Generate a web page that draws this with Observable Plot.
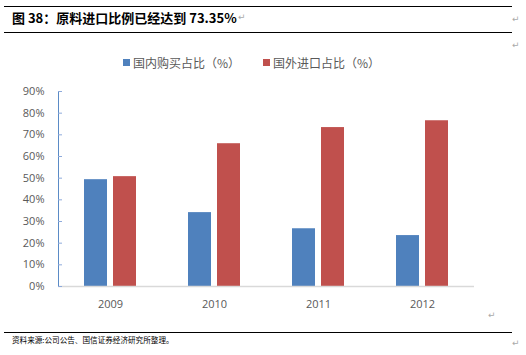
<!DOCTYPE html>
<html><head><meta charset="utf-8">
<script src="https://cdn.jsdelivr.net/npm/d3@7"></script>
<script src="https://cdn.jsdelivr.net/npm/@observablehq/plot@0.6"></script>
<style>
body{margin:0;background:#fff;width:526px;height:355px;position:relative;overflow:hidden;font-family:"Noto Sans CJK SC",sans-serif;}
.abs{position:absolute;white-space:nowrap;}
.hr{position:absolute;left:4px;width:508px;height:0;border-top:1px solid #000;}
.pm{position:absolute;color:#aaa;font-size:9px;font-family:"DejaVu Sans";}
#chart{position:absolute;left:0;top:75px;}
.legend{position:absolute;top:54px;font-size:12px;color:#595959;display:flex;align-items:center;}
.sw{display:inline-block;width:7px;height:7px;margin-right:3px;}
</style></head>
<body>
<div class="hr" style="top:6px"></div>
<div class="abs" style="left:12px;top:8px;font-size:13px;font-weight:bold;color:#000;">图 38：原料进口比例已经达到 73.35%</div>
<div class="pm" style="left:238px;top:12px">↵</div>
<div class="pm" style="left:512px;top:14px">↵</div>
<div class="hr" style="top:32px"></div>
<div class="pm" style="left:512px;top:40px">↵</div>
<div id="legend"></div>
<div id="chart"></div>
<div class="pm" style="left:488px;top:310px">↵</div>
<div class="hr" style="top:332px"></div>
<div class="abs" style="left:12px;top:334px;font-size:7.6px;color:#000;">资料来源:公司公告、国信证券经济研究所整理。</div>
<div class="pm" style="left:512px;top:338px">↵</div>
<script>
const years = ["2009", "2010", "2011", "2012"];
const seriesNames = ["国内购买占比（%）", "国外进口占比（%）"];
const domestic = [0.493, 0.341, 0.2665, 0.235];
const imported = [0.507, 0.659, 0.7335, 0.765];
const yTicks = [0, 0.1, 0.2, 0.3, 0.4, 0.5, 0.6, 0.7, 0.8, 0.9];
const colors = ["#4F81BD", "#C0504D"];

const data = [];
years.forEach((y, i) => {
  data.push({year: y, series: seriesNames[0], value: domestic[i]});
  data.push({year: y, series: seriesNames[1], value: imported[i]});
});

// legend
const lg = document.getElementById("legend");
const legendLeft = [123, 263];
seriesNames.forEach((s, i) => {
  const d = document.createElement("div");
  d.className = "legend";
  d.style.left = legendLeft[i] + "px";
  d.innerHTML = `<span class="sw" style="background:${colors[i]}"></span>${s}`;
  lg.appendChild(d);
});

const chart = Plot.plot({
  width: 526,
  height: 240,
  marginLeft: 57,
  marginRight: 51,
  marginTop: 16,
  marginBottom: 29,
  style: {fontFamily: "Open Sans", fontSize: "11px", background: "transparent"},
  fx: {domain: years, padding: 0, label: null},
  x: {domain: seriesNames, paddingInner: 0.2, paddingOuter: 0.84, axis: null},
  y: {domain: [0, 0.9]},
  color: {domain: seriesNames, range: colors},
  marks: [
    Plot.barY(data, {fx: "year", x: "series", y: "value", fill: "series"}),
    Plot.ruleY([0], {stroke: "#d9d9d9", strokeWidth: 1.5}),
    Plot.frame({anchor: "left", stroke: "#5B8BC6", facetAnchor: "left"}),
    Plot.axisY({ticks: yTicks, tickFormat: d => Math.round(d * 100) + "%", tickSize: -4, tickPadding: 18, stroke: "#8EAADB", fill: "#595959", label: null}),
    Plot.axisFx({anchor: "bottom", tickSize: 0, tickPadding: 14, fill: "#595959", label: null})
  ]
});
document.getElementById("chart").appendChild(chart);
</script>
</body></html>
